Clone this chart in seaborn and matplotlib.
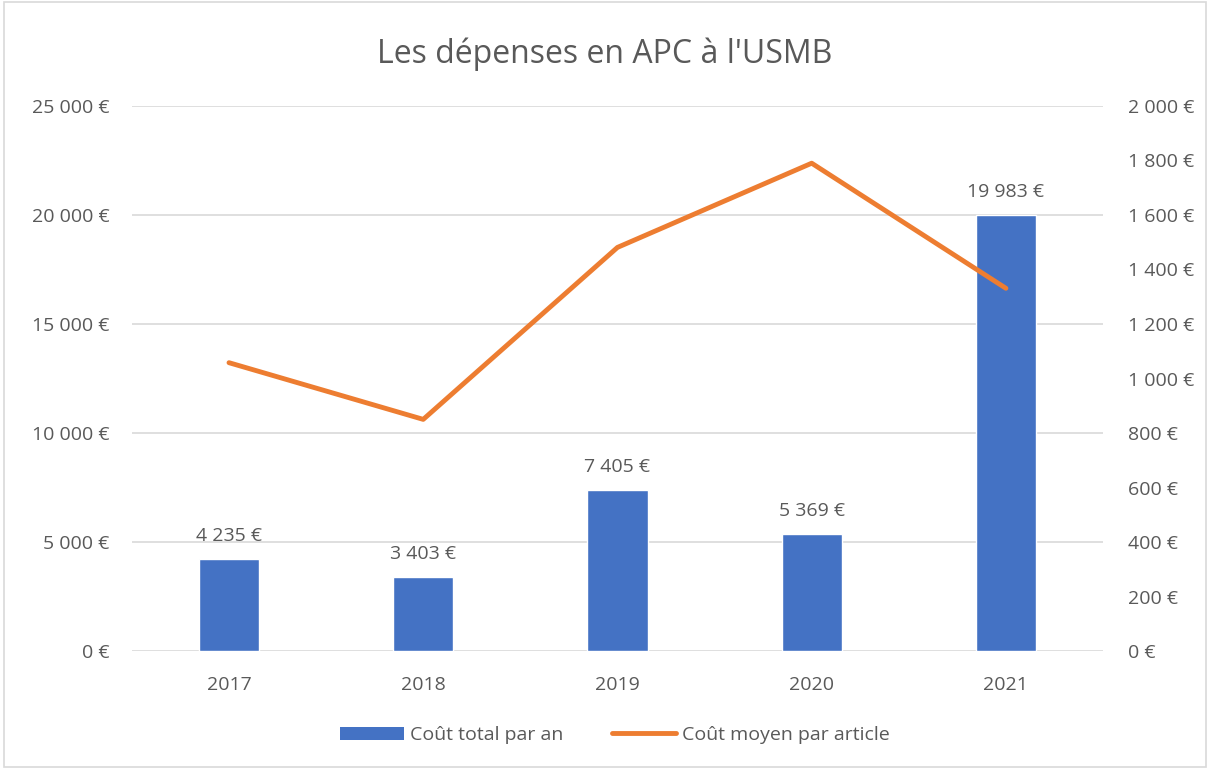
import numpy as np
import pandas as pd
import matplotlib
matplotlib.use('Agg')
import matplotlib.pyplot as plt
import seaborn as sns
from matplotlib.patches import Patch, Rectangle
from matplotlib.lines import Line2D
from matplotlib.ticker import FuncFormatter, MultipleLocator

years = ['2017', '2018', '2019', '2020', '2021']
total_cost = [4235, 3403, 7405, 5369, 19983]  ## coût total par an
avg_cost = [1058, 850, 1481, 1790, 1331]  ## coût moyen par article

bar_color = '#4472C4'
line_color = '#ED7D31'
text_color = '#595959'
fs = 14

sns.set_style('white')
plt.rcParams['font.family'] = ['Open Sans', 'DejaVu Sans']

def euro(v, pos=None):
    return '{:,.0f} €'.format(v).replace(',', ' ')

df = pd.DataFrame({'Year': years, 'Total': total_cost, 'Moyen': avg_cost})

fig = plt.figure(figsize=(12.1, 7.69), dpi=100)
ax = fig.add_axes([0.109, 0.1534, 0.8026, 0.7088])

sns.barplot(data=df, x='Year', y='Total', color=bar_color, width=0.31, saturation=1, ax=ax)
ax.set_ylim(0, 25000)
ax.yaxis.set_major_locator(MultipleLocator(5000))
ax.yaxis.set_major_formatter(FuncFormatter(euro))
ax.grid(axis='y', color='#D9D9D9', linewidth=1.2)
ax.set_axisbelow(True)
ax.set_xlim(-0.5, 4.5)
ax.set_xlabel('')
ax.set_ylabel('')
for s in ax.spines.values():
    s.set_visible(False)
ax.tick_params(axis='y', length=0, labelsize=fs, colors=text_color, pad=16)
ax.tick_params(axis='x', length=0, labelsize=fs, colors=text_color, pad=18)

## étiquettes de données
for i, v in enumerate(total_cost):
    ax.annotate(euro(v), (i, v), xytext=(0, 10), textcoords='offset points',
                ha='center', va='bottom', fontsize=fs, color=text_color)

ax2 = ax.twinx()
sns.lineplot(x=np.arange(len(years)), y=avg_cost, color=line_color, linewidth=3.5,
             solid_capstyle='round', ax=ax2)
ax2.set_ylim(0, 2000)
ax2.yaxis.set_major_locator(MultipleLocator(200))
ax2.yaxis.set_major_formatter(FuncFormatter(euro))
for s in ax2.spines.values():
    s.set_visible(False)
ax2.tick_params(axis='y', length=0, labelsize=fs, colors=text_color, pad=18)
ax.set_xlim(-0.5, 4.5)

fig.suptitle("Les dépenses en APC à l'USMB", y=0.951, fontsize=23, color=text_color)

handles = [Patch(facecolor=bar_color, edgecolor='none'),
           Line2D([0], [0], color=line_color, linewidth=3.5, solid_capstyle='round')]
fig.legend(handles, ['Coût total par an', 'Coût moyen par article'], loc='center',
           bbox_to_anchor=(0.508, 0.044), ncol=2, frameon=False, fontsize=fs,
           labelcolor=text_color, handlelength=3.3, handletextpad=0.3, columnspacing=2.5)

## cadre du graphique
fig.patches.append(Rectangle((0.003, 0.003), 0.994, 0.994, transform=fig.transFigure,
                             fill=False, edgecolor='#D9D9D9', linewidth=1.2))

fig.savefig('out.png', dpi=100)
